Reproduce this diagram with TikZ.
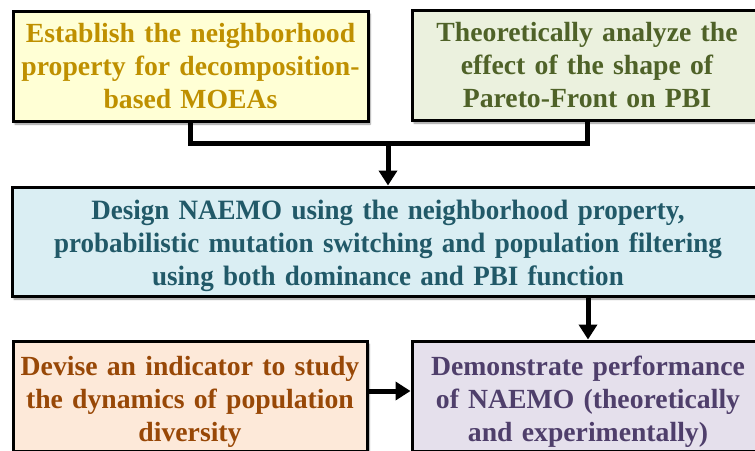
\documentclass[tikz,border=0pt]{standalone}
\usepackage{fontspec}
\setmainfont{Liberation Serif}
\newfontfamily\taskfont{Liberation Serif Bold}
\newfontfamily\narrowtaskfont{Liberation Serif Bold}[FakeStretch=0.965]
\usetikzlibrary{arrows.meta,shadows.blur}
\definecolor{fillA}{HTML}{FFFFD5}
\definecolor{textA}{HTML}{BF9000}
\definecolor{fillB}{HTML}{EBF1DE}
\definecolor{textB}{HTML}{4F6228}
\definecolor{fillC}{HTML}{DAEEF3}
\definecolor{textC}{HTML}{215968}
\definecolor{fillD}{HTML}{FDE9D9}
\definecolor{textD}{HTML}{984807}
\definecolor{fillE}{HTML}{E5E0EC}
\definecolor{textE}{HTML}{4F3F6B}
\tikzset{
  task/.style={draw=black, line width=3pt, align=center, inner sep=0pt,
    font=\taskfont\fontsize{27.7}{33}\selectfont,
    blur shadow={shadow xshift=2pt, shadow yshift=-3pt, shadow blur steps=6, shadow opacity=45}},
  tasktext/.style={align=center, inner sep=0pt},
  link/.style={line width=5pt},
  flow/.style={link, -{Triangle[length=15pt,width=18pt]}}
}
\begin{document}
\begin{tikzpicture}[x=1pt,y=-1pt]
  \useasboundingbox (0,0) rectangle (755,450);
  \clip (0,0) rectangle (755,450);
  % research tasks
  \node[task, fill=fillA, text=textA, minimum width=355pt, minimum height=110pt, text width=350pt]
    (b1) at (190.5,66) {Establish the neighborhood\\property for decomposition-\\based MOEAs};
  \node[task, fill=fillB, text=textB, minimum width=350pt, minimum height=110pt, text width=345pt]
    (b2) at (587,65) {Theoretically analyze the\\effect of the shape of\\Pareto-Front on PBI};
  \node[task, fill=fillC, minimum width=752pt, minimum height=109pt] (b3) at (388,241.5) {};
  \node[tasktext, text=textC, text width=745pt,
    font=\narrowtaskfont\fontsize{28}{33}\selectfont]
    (b3text) at ([yshift=-4pt]b3.center) {Design NAEMO using the neighborhood property,\\probabilistic mutation switching and population filtering\\using both dominance and PBI function};
  \node[task, fill=fillD, minimum width=354pt, minimum height=110pt] (b4) at (190,396) {};
  \node[tasktext, text=textD, text width=350pt, font=\taskfont\fontsize{27.7}{33}\selectfont]
    (b4text) at ([yshift=-6pt]b4.center) {Devise an indicator to study\\the dynamics of population\\diversity};
  \node[task, fill=fillE, minimum width=352pt, minimum height=110pt] (b5) at (588,396) {};
  \node[tasktext, text=textE, text width=350pt, font=\taskfont\fontsize{27.7}{33}\selectfont]
    (b5text) at ([yshift=-6pt]b5.center) {Demonstrate performance\\of NAEMO (theoretically\\and experimentally)};
  % connectors
  \coordinate (join) at (388,143);
  \draw[link] (b1.south) |- ([xshift=2.5pt]join);
  \draw[link] (b2.south) |- ([xshift=-2.5pt]join);
  \draw[flow] ([yshift=-2.5pt]join) -- (b3.north);
  \draw[flow] (b3.south -| b5.north) -- (b5.north);
  \draw[flow] ([yshift=5pt]b4.east) -- ([yshift=5pt]b5.west);
\end{tikzpicture}
\end{document}
